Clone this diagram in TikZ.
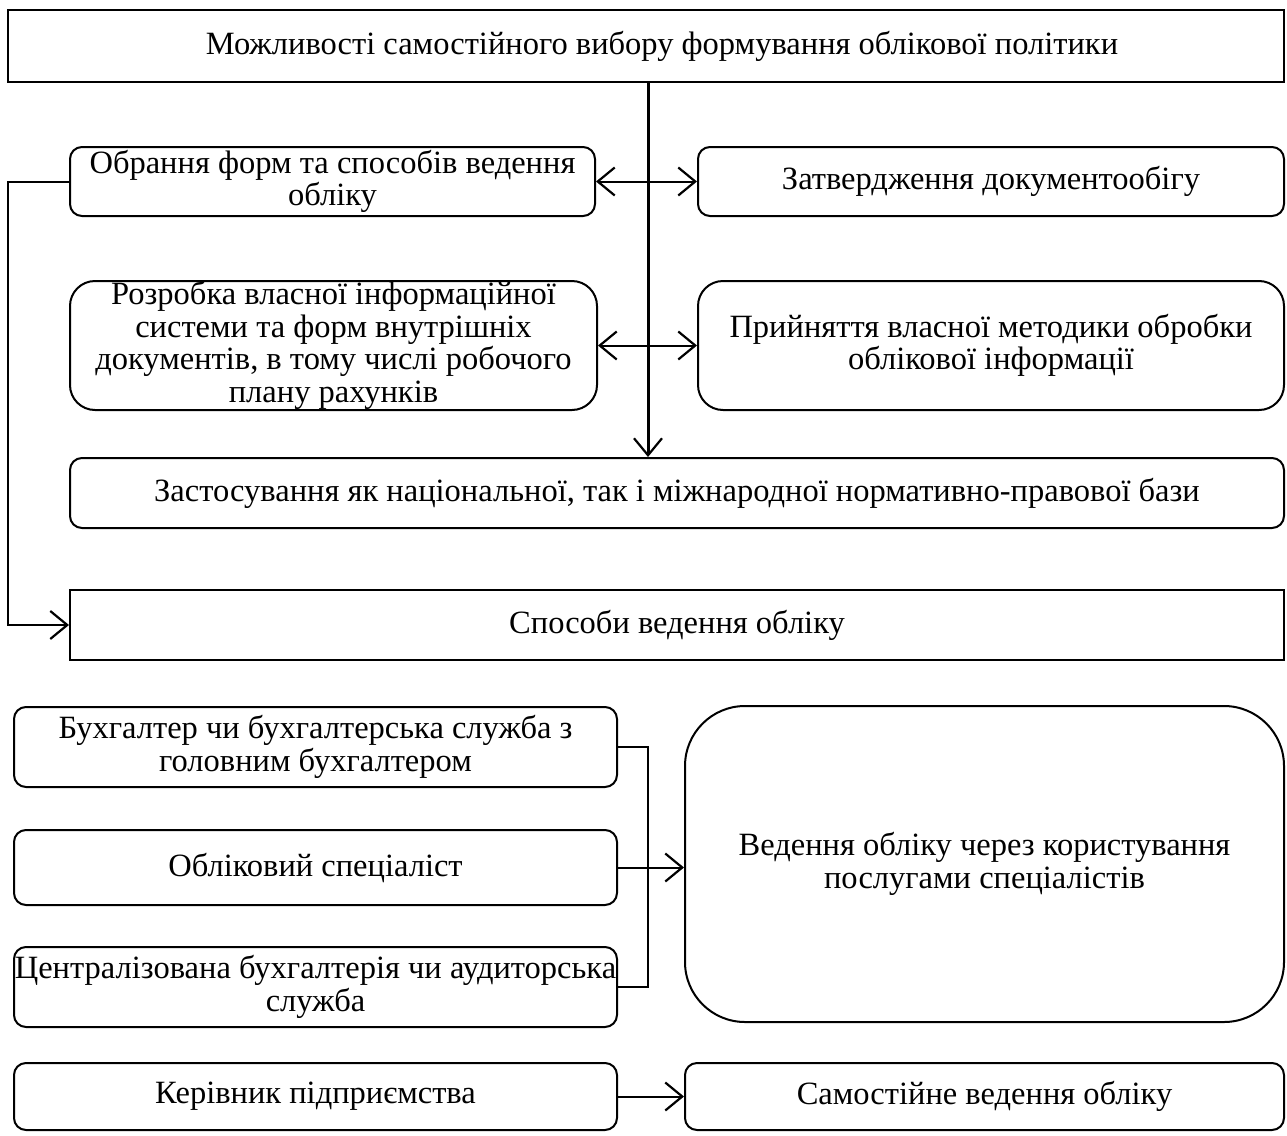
\documentclass[tikz,border=0pt]{standalone}
\usepackage{fontspec}
\setmainfont{Liberation Serif}
\usetikzlibrary{arrows.meta}
\begin{document}
\begin{tikzpicture}[x=1pt,y=-1pt,
 box/.style={draw, line width=2pt, rounded corners=12pt, align=center, font=\fontsize{32.5}{32.5}\selectfont, inner sep=0pt},
 sharpbox/.style={box, sharp corners},
 tip/.tip={Straight Barb[length=17pt,width=28pt,line width=2.2pt]},
 arr/.style={line width=2pt, -tip},
 darr/.style={line width=2pt, tip-tip},
 link/.style={line width=2pt},
]
\useasboundingbox (0,0) rectangle (1287,1135);

\node[sharpbox, minimum width=1276, minimum height=72] (top) at (646,46) {\hspace*{32pt}Можливості самостійного вибору формування облікової політики};
\node[box, minimum width=525, minimum height=69] (A) at (332.5,181.5) {Обрання форм та способів ведення\\обліку};
\node[box, minimum width=586, minimum height=69] (B) at (991,181.5) {Затвердження документообігу};
\node[box, rounded corners=25pt, minimum width=527, minimum height=129] (C) at (333.5,345.5) {Розробка власної інформаційної\\системи та форм внутрішніх\\документів, в тому числі робочого\\плану рахунків};
\node[box, rounded corners=25pt, minimum width=586, minimum height=129] (D) at (991,345.5) {Прийняття власної методики обробки\\облікової інформації};
\node[box, minimum width=1214, minimum height=70] (E) at (677,493) {Застосування як національної, так і міжнародної нормативно-правової бази};
\node[sharpbox, minimum width=1214, minimum height=70] (F) at (677,625) {Способи ведення обліку};

\node[box, minimum width=603, minimum height=80] (G) at (315.5,747) {Бухгалтер чи бухгалтерська служба з\\головним бухгалтером};
\node[box, minimum width=603, minimum height=75] (H) at (315.5,867.5) {Обліковий спеціаліст};
\node[box, minimum width=603, minimum height=80] (I) at (315.5,987) {Централізована бухгалтерія чи аудиторська\\служба};
\node[box, rounded corners=60pt, minimum width=599, minimum height=316] (J) at (984.5,864) {Ведення обліку через користування\\послугами спеціалістів};
\node[box, minimum width=603, minimum height=67] (K) at (315.5,1096.5) {Керівник підприємства};
\node[box, minimum width=599, minimum height=67] (L) at (984.5,1096.5) {Самостійне ведення обліку};

\coordinate (vx) at (648,0);
\coordinate (lx) at (8,0);
\draw[line width=3pt, -{Straight Barb[length=17pt,width=28pt,line width=2.2pt]}] (top.south -| vx) -- (E.north -| vx);
\draw[darr] (A.east) -- (B.west);
\draw[darr] (C.east) -- (D.west);
\draw[arr] (A.west) -- (A.west -| lx) |- (F.west);
\draw[link] (G.east) -- (G.east -| vx) -- (I.east -| vx) -- (I.east);
\draw[arr] (H.east) -- (H.east -| J.west);
\draw[arr] (K.east) -- (L.west);
\end{tikzpicture}
\end{document}
